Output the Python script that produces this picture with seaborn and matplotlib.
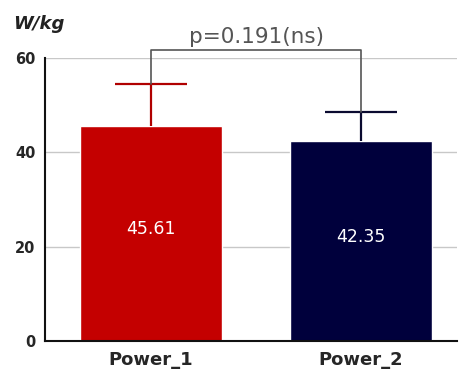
import matplotlib
matplotlib.use("Agg")
import matplotlib.pyplot as plt
import seaborn as sns
import pandas as pd

# Group means and standard deviations (W/kg)
groups = ["Power_1", "Power_2"]
means = [45.61, 42.35]
sds = [8.8, 6.2]
bar_colors = ["#C40000", "#00003C"]
err_colors = ["#B00000", "#0A0A30"]
p_text = "p=0.191(ns)"

sns.set_style("white")
plt.rcParams["font.family"] = ["DejaVu Sans"]

df = pd.DataFrame({"group": groups, "value": means})

fig = plt.figure(figsize=(4.59, 3.74), dpi=100)
ax = fig.add_axes([0.098, 0.088, 0.898, 0.757])

sns.barplot(data=df, x="group", y="value", hue="group", palette=bar_colors,
            width=0.676, errorbar=None, legend=False, ax=ax, zorder=2,
            saturation=1)

# one-sided (upper) SD error bars with a cap only at the top
cap_half = 0.17
for i, (m, s, c) in enumerate(zip(means, sds, err_colors)):
    ax.vlines(i, m, m + s, color=c, linewidth=1.6, zorder=3)
    ax.hlines(m + s, i - cap_half, i + cap_half, color=c, linewidth=1.6,
              zorder=3)
    ax.text(i, m * 0.52, f"{m:.2f}", color="white", ha="center", va="center",
            fontsize=12.5, zorder=4)

ax.set_xlim(-0.505, 1.457)
ax.set_ylim(0, 60)
ax.set_yticks([0, 20, 40, 60])
ax.yaxis.grid(True, color="#c8c8c8", linewidth=1.0, zorder=0)
ax.set_axisbelow(True)

for side in ("top", "right"):
    ax.spines[side].set_visible(False)
for side in ("left", "bottom"):
    ax.spines[side].set_color("#111111")
    ax.spines[side].set_linewidth(1.5)

ax.tick_params(axis="y", direction="out", length=6, width=1.5, color="#111111",
               labelsize=10.5, pad=1)
ax.tick_params(axis="x", direction="out", length=5, width=1.5, color="#111111",
               labelsize=13, pad=2)
for lbl in ax.get_yticklabels():
    lbl.set_fontweight("bold")
for lbl in ax.get_xticklabels():
    lbl.set_fontweight("bold")

ax.set_xlabel("")
ax.set_ylabel("")
fig.text(0.028, 0.935, "W/kg", fontsize=13, fontstyle="italic",
         fontweight="bold", ha="left", va="center", color="#222222")

# significance bracket
top = 61.7
tops = [m + s for m, s in zip(means, sds)]
ax.plot([0, 0, 1, 1], [tops[0], top, top, tops[1]], color="#555555",
        linewidth=1.2, clip_on=False, zorder=5)
ax.text(0.5, top + 0.6, p_text, ha="center", va="bottom", fontsize=15.5,
        color="#555555", clip_on=False)

fig.savefig("out.png", dpi=100, facecolor="white")
